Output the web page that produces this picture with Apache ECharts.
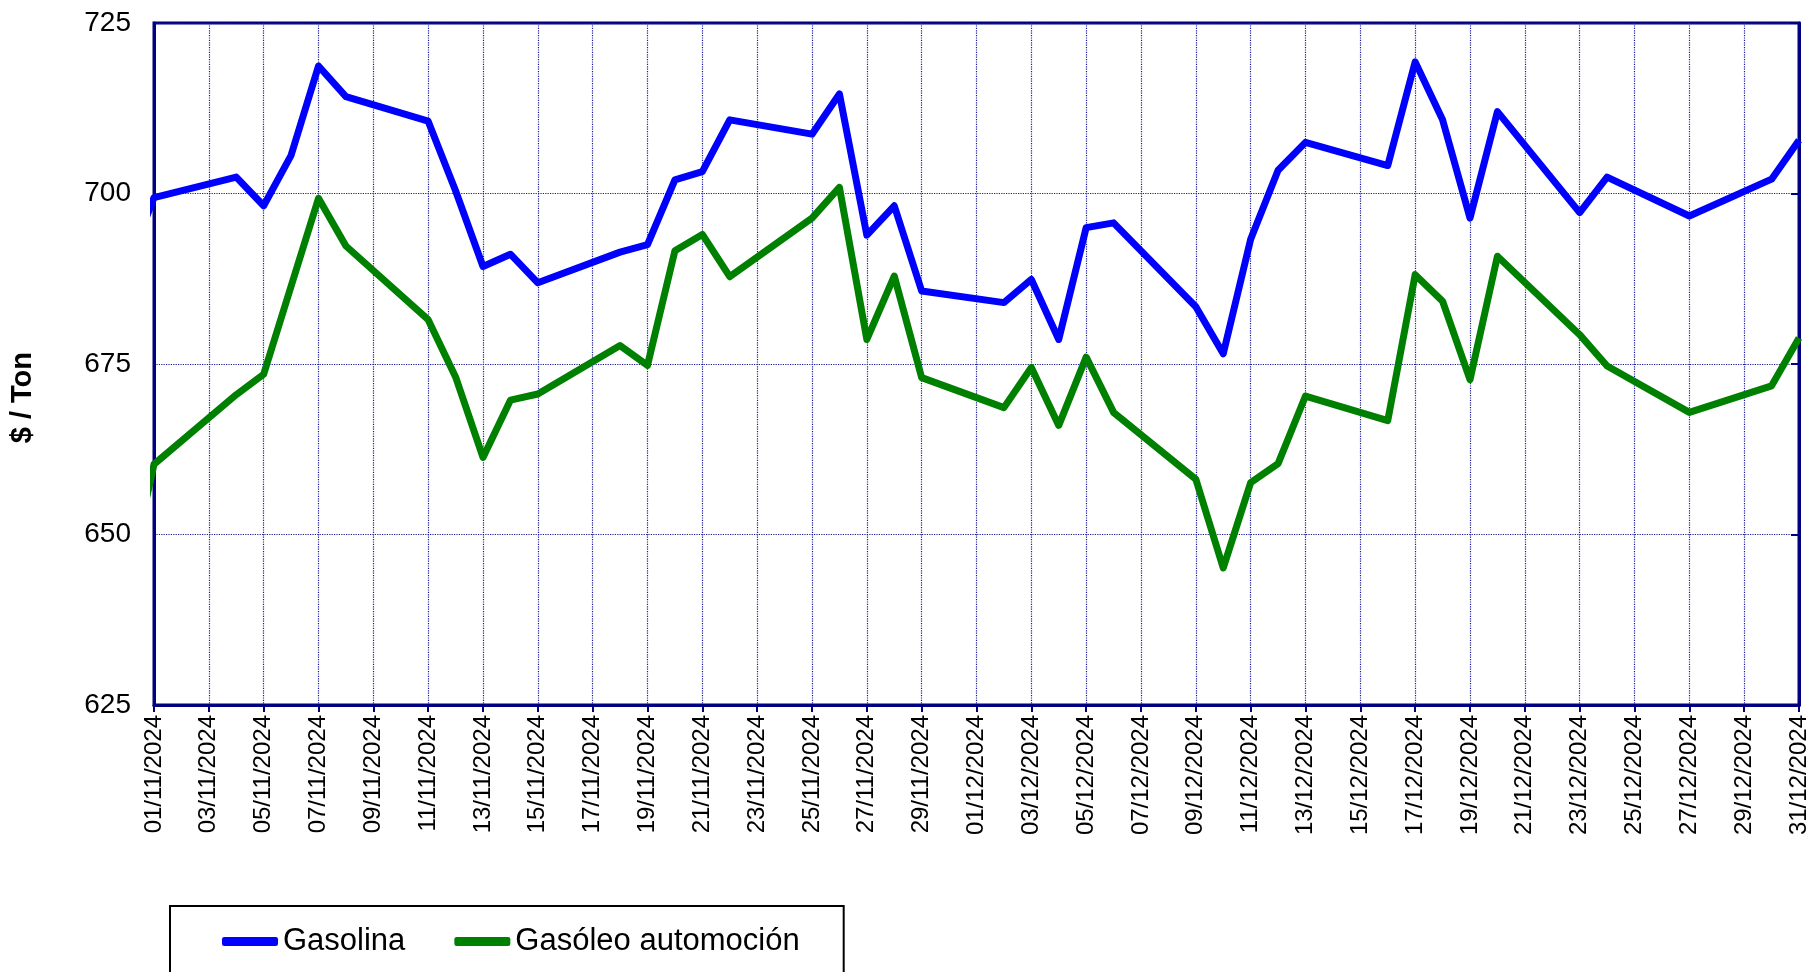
<!DOCTYPE html>
<html>
<head>
<meta charset="utf-8">
<script src="https://cdn.jsdelivr.net/npm/echarts@6/dist/echarts.min.js"></script>
<style>
  html, body { margin: 0; padding: 0; background: #fff; }
  #chart { width: 1814px; height: 972px; }
</style>
</head>
<body>
<div id="chart"></div>
<script>
// business days (31/10 sits left of the axis and is clipped)
const dates = [
  "31/10/2024", "01/11/2024", "04/11/2024", "05/11/2024", "06/11/2024", "07/11/2024", "08/11/2024",
  "11/11/2024", "12/11/2024", "13/11/2024", "14/11/2024", "15/11/2024",
  "18/11/2024", "19/11/2024", "20/11/2024", "21/11/2024", "22/11/2024",
  "25/11/2024", "26/11/2024", "27/11/2024", "28/11/2024", "29/11/2024",
  "02/12/2024", "03/12/2024", "04/12/2024", "05/12/2024", "06/12/2024",
  "09/12/2024", "10/12/2024", "11/12/2024", "12/12/2024", "13/12/2024",
  "16/12/2024", "17/12/2024", "18/12/2024", "19/12/2024", "20/12/2024",
  "23/12/2024", "24/12/2024", "27/12/2024", "30/12/2024", "31/12/2024"
];
const gasolina = [
  689, 699.4, 702.4, 698.2, 705.6, 718.7, 714.2,
  710.6, 700.4, 689.3, 691.1, 686.9,
  691.4, 692.5, 702.0, 703.2, 710.8,
  708.7, 714.6, 693.9, 698.2, 685.7,
  684.0, 687.4, 678.6, 695.0, 695.7,
  683.4, 676.5, 693.3, 703.4, 707.5,
  704.1, 719.3, 710.8, 696.4, 712.0,
  697.2, 702.4, 696.7, 702.1, 707.8
];
const gasoleo = [
  642, 660.3, 670.5, 673.5, 686.4, 699.3, 692.3,
  681.5, 673.1, 661.3, 669.7, 670.6,
  677.7, 674.8, 691.6, 694.0, 687.8,
  696.4, 700.9, 678.6, 687.9, 673.0,
  668.6, 674.5, 666.0, 676.0, 667.9,
  658.1, 645.1, 657.6, 660.4, 670.3,
  666.7, 688.1, 684.2, 672.7, 690.8,
  679.3, 674.7, 667.9, 671.8, 678.8
];
const seriesNames = ["Gasolina", "Gasóleo automoción"];
const yMin = 625, yMax = 725, yStep = 25;
const firstDay = "01/11/2024", lastDay = "31/12/2024";

const navy = "#000080";
const font = "Liberation Sans, Arial, sans-serif";

function toDate(s) {
  const [d, m, y] = s.split("/").map(Number);
  return new Date(y, m - 1, d);
}
const t0 = toDate(firstDay);
function dayIndex(s) {
  return Math.round((toDate(s) - t0) / 86400000);
}
function pad(n) { return (n < 10 ? "0" : "") + n; }
function dayLabel(i) {
  const d = new Date(t0.getFullYear(), t0.getMonth(), t0.getDate() + i);
  return pad(d.getDate()) + "/" + pad(d.getMonth() + 1) + "/" + d.getFullYear();
}

const chart = echarts.init(document.getElementById("chart"));

chart.setOption({
  animation: false,
  backgroundColor: "#fff",
  grid: {
    left: 154, top: 23, right: 15, bottom: 267,
    show: true, borderColor: navy, borderWidth: 3
  },
  xAxis: {
    type: "value",
    min: 0,
    max: dayIndex(lastDay),
    interval: 2,
    axisLine: { lineStyle: { color: navy, width: 3 } },
    axisTick: { show: true, length: 7, lineStyle: { color: navy, width: 2 } },
    axisLabel: {
      rotate: 90, margin: 10, color: "#000", fontSize: 24, fontFamily: font,
      formatter: (v) => dayLabel(v)
    },
    splitLine: { show: true, lineStyle: { color: "#1a1a99", type: "dotted", width: 1.2 } }
  },
  yAxis: [
    {
      type: "value", min: yMin, max: yMax, interval: yStep,
      axisLine: { show: true, lineStyle: { color: navy, width: 3 } },
      axisTick: { show: false },
      axisLabel: { margin: 23, color: "#000", fontSize: 28, fontFamily: font },
      splitLine: { show: true, lineStyle: { color: "#1a1a99", type: "dotted", width: 1.2 } }
    },
    {
      type: "value", position: "right", min: yMin, max: yMax, interval: yStep,
      axisLine: { show: true, lineStyle: { color: navy, width: 3 } },
      axisTick: { show: true, inside: true, length: 8, lineStyle: { color: navy, width: 2 } },
      axisLabel: { show: false },
      splitLine: { show: false }
    }
  ],
  legend: {
    left: 170, top: 906,
    orient: "horizontal",
    backgroundColor: "#fff",
    borderColor: "#000", borderWidth: 2,
    padding: [20, 44, 60, 52],
    itemWidth: 56, itemHeight: 9, itemGap: 49,
    icon: "roundRect",
    textStyle: { color: "#000", fontSize: 31, fontFamily: font },
    data: seriesNames
  },
  graphic: [{
    type: "text",
    left: 8, top: 352,
    rotation: Math.PI / 2,
    style: { text: "$ / Ton", fill: "#000", font: "bold 29px " + font }
  }],
  series: [
    {
      name: seriesNames[0], type: "line", showSymbol: false, symbol: "none",
      color: "#0000ff",
      lineStyle: { width: 7, color: "#0000ff", join: "round" },
      data: dates.map((d, i) => [dayIndex(d), gasolina[i]])
    },
    {
      name: seriesNames[1], type: "line", showSymbol: false, symbol: "none",
      color: "#008000",
      lineStyle: { width: 7, color: "#008000", join: "round" },
      data: dates.map((d, i) => [dayIndex(d), gasoleo[i]])
    }
  ]
});
</script>
</body>
</html>
